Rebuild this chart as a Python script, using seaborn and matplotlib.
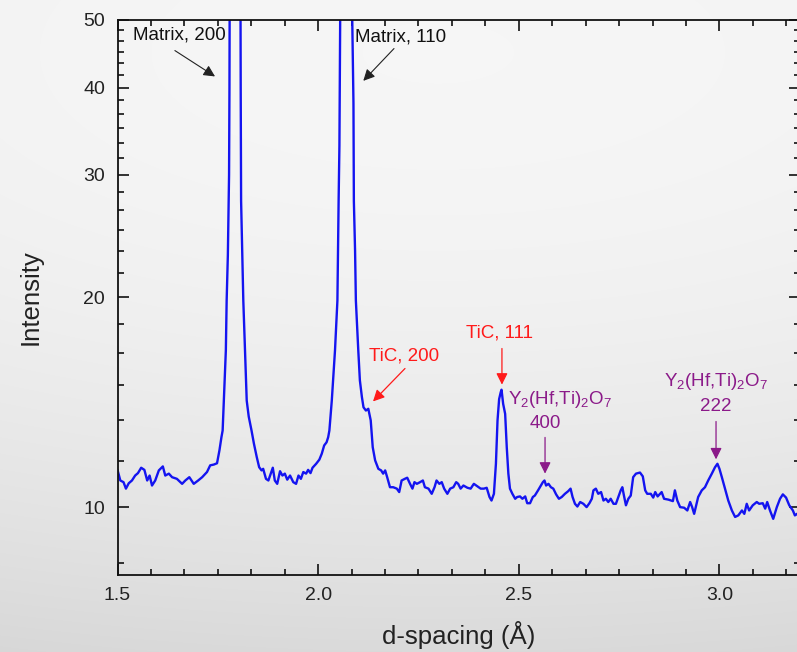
import numpy as np
import pandas as pd
import matplotlib
matplotlib.use("Agg")
import matplotlib.pyplot as plt
from matplotlib.ticker import FixedLocator, MultipleLocator, NullFormatter, FuncFormatter
import seaborn as sns

# XRD pattern: d-spacing (Angstrom) vs. intensity (log axis)
d_spacing = [
    1.500, 1.507, 1.515, 1.521, 1.528, 1.536, 1.544, 1.551, 1.559, 1.567,
    1.574, 1.580, 1.586, 1.594, 1.603, 1.613, 1.619, 1.628, 1.636, 1.648,
    1.661, 1.669, 1.679, 1.690, 1.701, 1.711, 1.723, 1.731, 1.740, 1.748,
    1.754, 1.759, 1.762, 1.765, 1.770, 1.772, 1.775, 1.778, 1.779, 1.780,
    1.793,
    1.806, 1.807, 1.808, 1.8135, 1.822, 1.827, 1.834, 1.840, 1.847, 1.853,
    1.859, 1.863, 1.870, 1.876, 1.882, 1.887, 1.892, 1.898, 1.905, 1.911,
    1.917, 1.923, 1.930, 1.938, 1.945, 1.951, 1.957, 1.963, 1.970, 1.975,
    1.981, 1.986, 1.995, 2.003, 2.009, 2.015, 2.021, 2.025, 2.028, 2.034,
    2.042, 2.048, 2.051, 2.053, 2.055, 2.056,
    2.0695,
    2.084, 2.085, 2.088, 2.089, 2.092, 2.094, 2.100, 2.104, 2.109, 2.113,
    2.119, 2.125, 2.131, 2.136, 2.142, 2.150, 2.157, 2.162, 2.167, 2.172,
    2.179, 2.187, 2.196, 2.202, 2.208, 2.216, 2.222, 2.229, 2.235, 2.240,
    2.246, 2.254, 2.261, 2.266, 2.275, 2.283, 2.290, 2.295, 2.302, 2.308,
    2.314, 2.322, 2.329, 2.337, 2.344, 2.349, 2.355, 2.362, 2.372, 2.380,
    2.388, 2.397, 2.405, 2.413, 2.420, 2.427, 2.432, 2.438, 2.443, 2.447,
    2.451, 2.455, 2.457, 2.461, 2.466, 2.470, 2.474, 2.478, 2.484, 2.491,
    2.496, 2.503, 2.509, 2.516, 2.521, 2.528, 2.535, 2.540, 2.548, 2.555,
    2.560, 2.564, 2.568, 2.574, 2.580, 2.586, 2.593, 2.600, 2.607, 2.615,
    2.623, 2.629, 2.634, 2.640, 2.646, 2.653, 2.661, 2.669, 2.676, 2.682,
    2.686, 2.692, 2.698, 2.705, 2.711, 2.717, 2.723, 2.729, 2.736, 2.742,
    2.748, 2.754, 2.758, 2.762, 2.767, 2.773, 2.779, 2.785, 2.792, 2.802,
    2.809, 2.815, 2.820, 2.829, 2.835, 2.840, 2.846, 2.856, 2.862, 2.873,
    2.884, 2.889, 2.895, 2.902, 2.912, 2.920, 2.927, 2.932, 2.937, 2.942,
    2.947, 2.956, 2.964, 2.972, 2.981, 2.989, 2.995, 3.000, 3.006, 3.015,
    3.022, 3.031, 3.039, 3.047, 3.056, 3.062, 3.068, 3.074, 3.083, 3.093,
    3.099, 3.108, 3.114, 3.119, 3.126, 3.134, 3.143, 3.151, 3.158, 3.166,
    3.174, 3.183, 3.188, 3.193, 3.200,
]
intensity = [
    11.32, 10.93, 10.87, 10.64, 10.83, 10.93, 11.11, 11.20, 11.40, 11.32,
    10.93, 11.11, 10.75, 10.93, 11.30, 11.45, 11.11, 11.18, 11.05, 10.99,
    10.81, 10.93, 11.05, 10.81, 10.93, 11.05, 11.24, 11.49, 11.52, 11.57,
    12.07, 12.61, 12.89, 14.23, 16.80, 19.80, 23.00, 30.00, 40.00, 70.00,
    400.0,
    70.00, 40.00, 27.50, 19.80, 14.23, 13.50, 12.89, 12.34, 11.81, 11.42,
    11.30, 11.36, 10.99, 10.93, 11.18, 11.40, 10.93, 10.81, 11.27, 11.11,
    11.18, 10.96, 11.11, 10.87, 10.81, 11.11, 10.99, 11.24, 11.18, 11.32,
    11.20, 11.40, 11.55, 11.71, 11.94, 12.27, 12.40, 12.61, 12.89, 14.23,
    16.80, 19.80, 27.50, 33.00, 50.00, 70.00,
    500.0,
    70.00, 50.00, 38.00, 27.50, 23.35, 19.80, 16.80, 15.21, 14.40, 13.92,
    13.77, 13.85, 13.33, 12.20, 11.68, 11.36, 11.30, 11.18, 11.30, 11.05,
    10.69, 10.69, 10.64, 10.52, 10.93, 10.99, 11.03, 10.81, 10.64, 10.87,
    10.81, 10.87, 10.93, 10.69, 10.64, 10.46, 10.69, 10.93, 10.81, 10.87,
    10.64, 10.46, 10.64, 10.69, 10.87, 10.81, 10.64, 10.75, 10.67, 10.64,
    10.81, 10.72, 10.64, 10.64, 10.67, 10.35, 10.23, 10.46, 11.55, 13.33,
    14.30, 14.63, 14.75, 14.08, 13.62, 12.20, 11.18, 10.64, 10.46, 10.29,
    10.35, 10.37, 10.29, 10.37, 10.14, 10.14, 10.35, 10.40, 10.58, 10.75,
    10.87, 10.93, 10.75, 10.81, 10.69, 10.64, 10.44, 10.29, 10.35, 10.46,
    10.55, 10.64, 10.35, 10.12, 10.03, 10.18, 10.12, 10.01, 10.14, 10.29,
    10.58, 10.64, 10.46, 10.52, 10.23, 10.29, 10.18, 10.29, 10.12, 10.12,
    10.35, 10.58, 10.69, 10.40, 10.07, 10.29, 10.40, 11.05, 11.18, 11.22,
    11.08, 10.58, 10.46, 10.46, 10.33, 10.52, 10.37, 10.52, 10.29, 10.26,
    10.21, 10.58, 10.23, 10.01, 9.99, 9.90, 10.18, 10.01, 9.79, 10.07,
    10.35, 10.58, 10.69, 10.93, 11.18, 11.42, 11.55, 11.36, 11.05, 10.58,
    10.23, 9.90, 9.69, 9.74, 9.90, 9.79, 10.12, 9.90, 10.07, 10.18,
    10.12, 10.14, 9.96, 10.18, 9.90, 9.63, 10.01, 10.29, 10.44, 10.33,
    10.07, 9.90, 9.74, 9.79, 9.72,
]

# axis ticks
x_major = [1.5, 2.0, 2.5, 3.0]
y_major = [10, 20, 30, 40, 50]

# label colours
TIC = "#ff1a1a"
OXIDE = "#8b1a89"

df = pd.DataFrame({"d": d_spacing, "I": intensity})

sns.set_style("ticks")
plt.rcParams["font.family"] = ["Liberation Sans", "DejaVu Sans"]
plt.rcParams["mathtext.fontset"] = "custom"
plt.rcParams["mathtext.rm"] = "Liberation Sans"
plt.rcParams["mathtext.it"] = "Liberation Sans:italic"
plt.rcParams["mathtext.default"] = "regular"

W, H = 797, 652
fig = plt.figure(figsize=(W / 100, H / 100), dpi=100)

# soft grey backdrop
bg = fig.add_axes([0, 0, 1, 1], zorder=-10)
yy, xx = np.mgrid[0:1:H * 1j, 0:1:W * 1j]
r2 = (0.5 * (xx - 0.55)) ** 2 + (yy - 0.08) ** 2
shade = np.clip(0.965 - 0.13 * r2, 0, 1)
bg.imshow(np.dstack([shade] * 3), aspect="auto", extent=[0, 1, 0, 1], origin="upper")
bg.axis("off")

left_px, right_px, top_px, bottom_px = 117.5, 799.7, 20, 575
ax = fig.add_axes([left_px / W, (H - bottom_px) / H,
                   (right_px - left_px) / W, (bottom_px - top_px) / H])
ax.set_facecolor("none")

sns.lineplot(data=df, x="d", y="I", ax=ax, color="#1414f0", lw=1.7,
             sort=False, estimator=None)

ax.set_yscale("log")
ax.set_xlim(1.5, 3.2)
ax.set_ylim(8, 50)

ax.xaxis.set_major_locator(FixedLocator(x_major))
ax.xaxis.set_minor_locator(MultipleLocator(0.5 / 6))
ax.xaxis.set_major_formatter(FuncFormatter(lambda v, p: f"{v:.1f}"))
ax.yaxis.set_major_locator(FixedLocator(y_major))
y_minor = [k * 5 / 3 for k in range(4, 31) if k % 6 != 0]
ax.yaxis.set_minor_locator(FixedLocator(y_minor))
ax.yaxis.set_major_formatter(FuncFormatter(lambda v, p: f"{v:.0f}"))
ax.yaxis.set_minor_formatter(NullFormatter())

for s in ax.spines.values():
    s.set_linewidth(1.3)
    s.set_color("#111111")
ax.tick_params(which="both", direction="in", top=True, right=True,
               color="#111111", width=1.2, labelcolor="#222222")
ax.tick_params(which="major", length=8, labelsize=14, pad=9)
ax.tick_params(which="minor", length=4.5)

ax.set_xlabel("d-spacing (Å)", fontsize=18.5, labelpad=12, color="#222222")
ax.set_ylabel("Intensity", fontsize=18.5, labelpad=29, color="#222222")


def mark(text, xy_text, tail, tip, color, ha="center", lw=0.9, head_color=None):
    """Peak label with an arrow pointing at the reflection."""
    ax.text(*xy_text, text, color=color, fontsize=13.5, ha=ha, va="center")
    ax.annotate("", xy=tip, xytext=tail,
                arrowprops=dict(arrowstyle="-|>", color=head_color or color,
                                lw=lw, mutation_scale=17, shrinkA=0, shrinkB=0))


mark("Matrix, 200", (1.539, 47.6), (1.643, 45.2), (1.743, 41.5), "#111111",
     ha="left", lw=0.8, head_color="#222222")
mark("Matrix, 110", (2.092, 47.3), (2.189, 45.5), (2.1125, 40.9), "#111111",
     ha="left", lw=0.8, head_color="#222222")
mark("TiC, 200", (2.215, 16.5), (2.2164, 15.82), (2.1367, 14.19), TIC)
mark("TiC, 111", (2.451, 17.76), (2.458, 16.90), (2.458, 15.0), TIC)

ax.text(2.474, 14.28, "Y$_2$(Hf,Ti)$_2$O$_7$", color=OXIDE, fontsize=13.5,
        ha="left", va="center")
mark("400", (2.567, 13.19), (2.5654, 12.60), (2.5654, 11.18), OXIDE)

ax.text(2.9915, 15.16, "Y$_2$(Hf,Ti)$_2$O$_7$", color=OXIDE, fontsize=13.5,
        ha="center", va="center")
mark("222", (2.9915, 13.95), (2.9915, 13.28), (2.9915, 11.72), OXIDE)

fig.savefig("out.png", dpi=100)
